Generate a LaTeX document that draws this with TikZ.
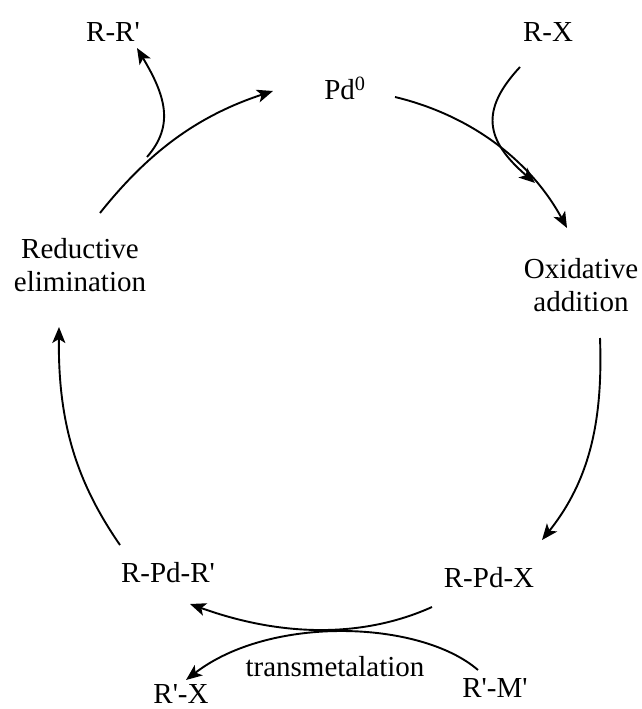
\documentclass[tikz,border=0pt]{standalone}
\usepackage{fontspec}
\setmainfont{Liberation Serif}
\usetikzlibrary{arrows.meta}

% straight prime mark
\newcommand{\pr}{\textquotesingle}

\begin{document}
\begin{tikzpicture}[x=1pt,y=-1pt,
  label/.style={font=\fontsize{29}{33}\selectfont, inner sep=0pt, align=center},
  flow/.style={line width=1.9pt, -{Stealth[length=16pt,width=13pt,inset=4pt]}}]
  \useasboundingbox (0,0) rectangle (642,709);

  % species and step names
  \node[label] (rr)   at (113,32)  {R-R\pr};
  \node[label] (pd)   at (345,88)  {Pd\textsuperscript{0}};
  \node[label] (rx)   at (548,32)  {R-X};
  \node[label] (oa)   at (581,285) {Oxidative\\addition};
  \node[label] (re)   at (80,265)  {Reductive\\elimination};
  \node[label] (rpdr) at (168,573) {R-Pd-R\pr};
  \node[label] (rpdx) at (489,578) {R-Pd-X};
  \node[label] (tm)   at (335,667) {transmetalation};
  \node[label] (rpx)  at (181,694) {R\pr-X};
  \node[label] (rpm)  at (495,688) {R\pr-M\pr};

  % connector ends
  \coordinate (pdout)  at (395,97);
  \coordinate (oain)   at (567,228);
  \coordinate (rxout)  at (520,67);
  \coordinate (rxin)   at (535,183);
  \coordinate (oaout)  at (600,338);
  \coordinate (rpdxin) at (542,540);
  \coordinate (rpdxout) at (432,607);
  \coordinate (rpdrin) at (190,604);
  \coordinate (rpmout) at (478,670);
  \coordinate (rpxin)  at (186,680);
  \coordinate (rpdrout) at (120,545);
  \coordinate (rein)   at (59,327);
  \coordinate (reout)  at (100,213);
  \coordinate (pdin)   at (273,91);
  \coordinate (split)  at (147,157);
  \coordinate (rrin)   at (137,48);

  % catalytic cycle
  \draw[flow] (pdout) .. controls (470,115) and (530,160) .. (oain);
  \draw[flow] (rxout) .. controls (480,110) and (485,140) .. (rxin);
  \draw[flow] (oaout) .. controls (603,420) and (590,480) .. (rpdxin);
  \draw[flow] (rpdxout) .. controls (370,635) and (290,640) .. (rpdrin);
  \draw[flow] (rpmout) .. controls (420,620) and (270,615) .. (rpxin);
  \draw[flow] (rpdrout) .. controls (75,480) and (58,420) .. (rein);
  \draw[flow] (reout) .. controls (150,150) and (200,115) .. (pdin);
  \draw[flow] (split) .. controls (175,125) and (165,95) .. (rrin);
\end{tikzpicture}
\end{document}
